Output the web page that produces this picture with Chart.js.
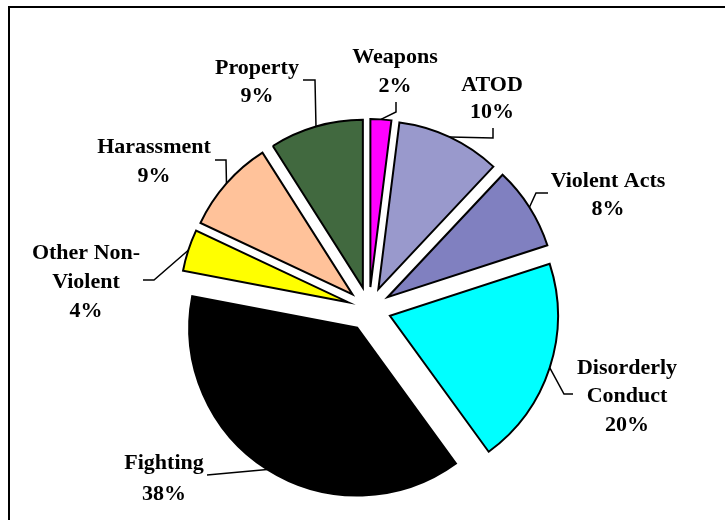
<!DOCTYPE html>
<html>
<head>
<meta charset="utf-8">
<script src="https://cdn.jsdelivr.net/npm/chart.js@4.4.0/dist/chart.umd.min.js"></script>
<style>
  body { margin: 0; background: #fff; }
  canvas { display: block; }
</style>
</head>
<body>
<canvas id="incident-chart" width="725" height="520"></canvas>
<script>
// Incident categories, clockwise from 12 o'clock
var categories = ["Weapons", "ATOD", "Violent Acts", "Disorderly Conduct", "Fighting", "Other Non-Violent", "Harassment", "Property"];
// Share of incidents (%)
var shares = [2, 10, 8, 20, 38, 4, 9, 9];
// How each category name wraps in its label
var labelLines = [["Weapons"], ["ATOD"], ["Violent Acts"], ["Disorderly", "Conduct"], ["Fighting"], ["Other Non-", "Violent"], ["Harassment"], ["Property"]];
var sliceColors = ["#ff00ff", "#9999cc", "#8080c0", "#00ffff", "#000000", "#ffff00", "#ffc29a", "#41693f"];

// where each label sits: text centre, line baselines, leader line points before it meets the slice
var labelPos = [
  {x: 395, y: [63, 92],       lead: [[396, 102], [396, 112]]},
  {x: 492, y: [91, 118],      lead: [[493, 128], [493, 138]]},
  {x: 608, y: [187, 215],     lead: [[548, 193], [536, 193]]},
  {x: 627, y: [374, 402, 431], lead: [[573, 394], [564, 394]]},
  {x: 164, y: [469, 500],     lead: [[207, 475]]},
  {x: 86,  y: [259, 288, 317], lead: [[143, 280], [154, 280]]},
  {x: 154, y: [153, 182],     lead: [[215, 160], [226, 160]]},
  {x: 257, y: [74, 102],      lead: [[303, 80], [315, 80]]}
];

var explode = 22;

function shiftOf(arc) {
  var mid = (arc.startAngle + arc.endAngle) / 2;
  return {dx: Math.cos(mid) * explode, dy: Math.sin(mid) * explode, mid: mid};
}

// pull every slice out along its bisector
var explodePlugin = {
  id: 'explode',
  beforeDatasetDraw: function(chart, args) {
    args.meta.data.forEach(function(arc) {
      var s = shiftOf(arc);
      arc.x += s.dx;
      arc.y += s.dy;
    });
  },
  afterDatasetDraw: function(chart, args) {
    args.meta.data.forEach(function(arc) {
      var s = shiftOf(arc);
      arc.x -= s.dx;
      arc.y -= s.dy;
    });
  }
};

var framePlugin = {
  id: 'frame',
  beforeDraw: function(chart) {
    var ctx = chart.ctx;
    ctx.save();
    ctx.fillStyle = '#fff';
    ctx.fillRect(0, 0, chart.width, chart.height);
    ctx.strokeStyle = '#000';
    ctx.lineWidth = 2;
    ctx.strokeRect(9, 7, 900, 700);
    ctx.restore();
  }
};

var labelPlugin = {
  id: 'sliceLabels',
  afterDatasetsDraw: function(chart) {
    var ctx = chart.ctx;
    var arcs = chart.getDatasetMeta(0).data;
    ctx.save();
    ctx.strokeStyle = '#000';
    ctx.lineWidth = 1.5;
    ctx.fillStyle = '#000';
    ctx.font = 'bold 22px "Liberation Serif", "Times New Roman", serif';
    ctx.textAlign = 'center';
    ctx.textBaseline = 'alphabetic';
    arcs.forEach(function(arc, i) {
      var s = shiftOf(arc);
      var ax = arc.x + s.dx + Math.cos(s.mid) * arc.outerRadius;
      var ay = arc.y + s.dy + Math.sin(s.mid) * arc.outerRadius;
      var p = labelPos[i];
      ctx.beginPath();
      ctx.moveTo(p.lead[0][0], p.lead[0][1]);
      for (var k = 1; k < p.lead.length; k++) ctx.lineTo(p.lead[k][0], p.lead[k][1]);
      ctx.lineTo(ax, ay);
      ctx.stroke();
      var lines = labelLines[i].concat([shares[i] + '%']);
      lines.forEach(function(t, j) {
        ctx.fillText(t, p.x, p.y[j]);
      });
    });
    ctx.restore();
  }
};

new Chart(document.getElementById('incident-chart'), {
  type: 'pie',
  data: {
    labels: categories,
    datasets: [{
      data: shares,
      backgroundColor: sliceColors,
      borderColor: '#000',
      borderWidth: 2,
      borderJoinStyle: 'miter',
      radius: 168
    }]
  },
  options: {
    responsive: false,
    animation: false,
    layout: { padding: { left: 13, right: 0, top: 98, bottom: 0 } },
    plugins: {
      legend: { display: false },
      tooltip: { enabled: false }
    }
  },
  plugins: [framePlugin, explodePlugin, labelPlugin]
});
</script>
</body>
</html>
